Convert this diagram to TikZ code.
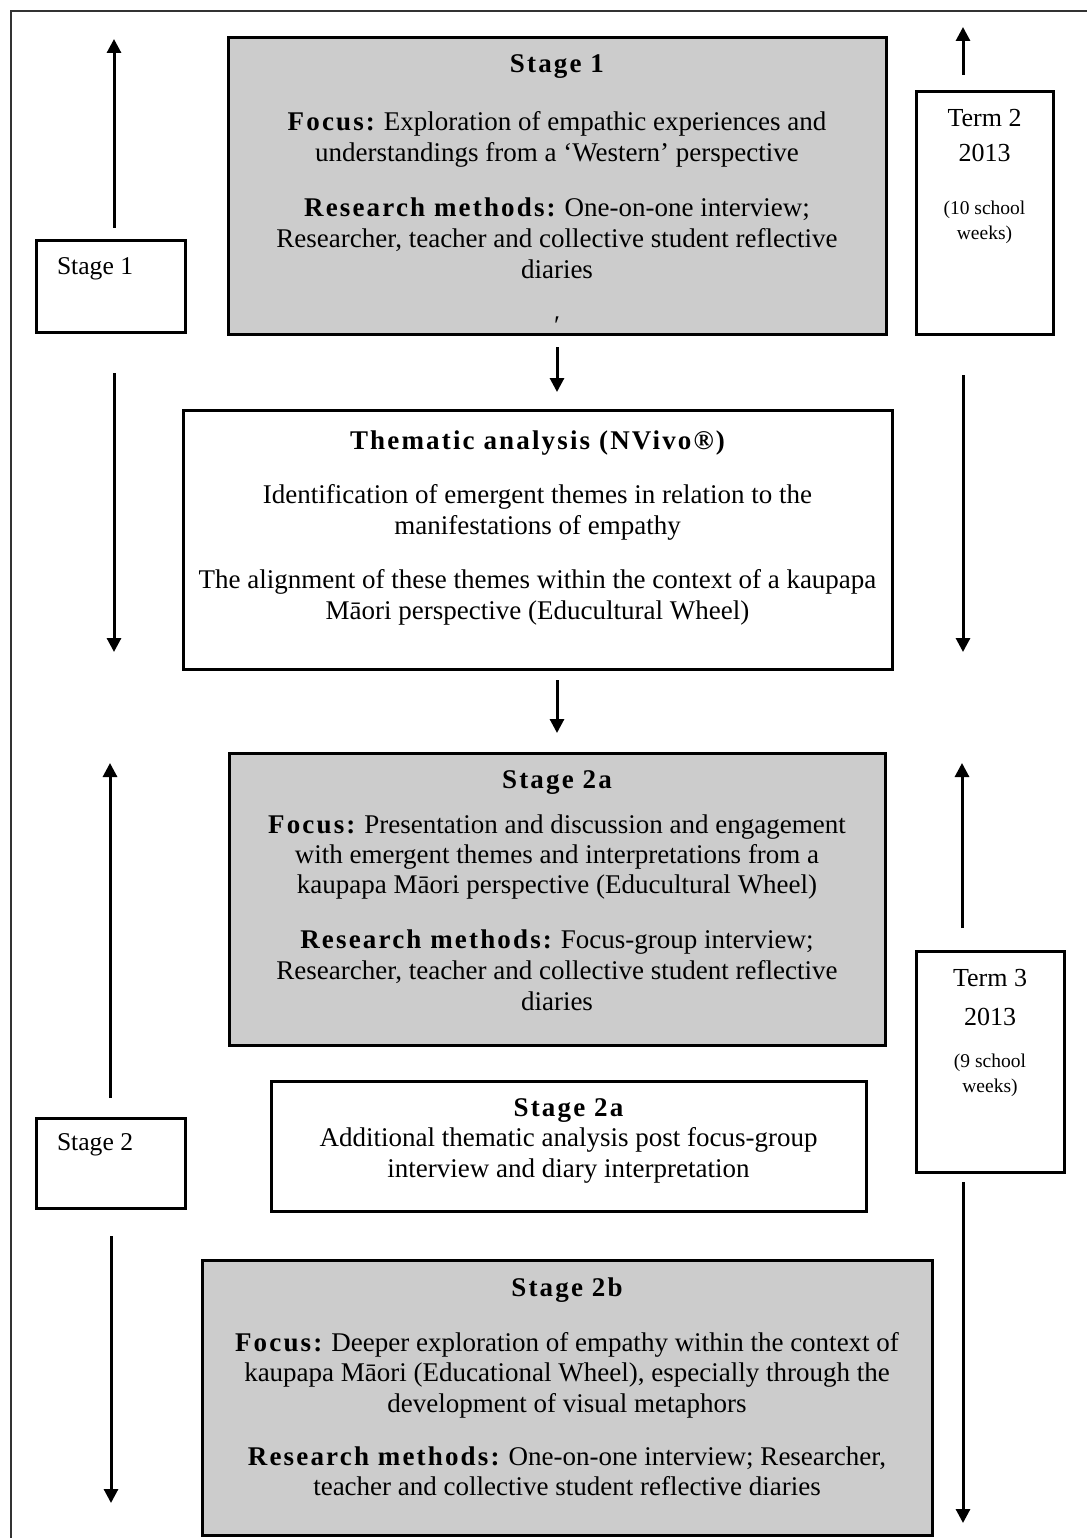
\documentclass[tikz,border=0pt]{standalone}
\usepackage{fontspec}
\setmainfont{Liberation Serif}
\usetikzlibrary{arrows.meta}
\definecolor{stagegrey}{HTML}{CCCCCC}
\definecolor{framegrey}{HTML}{333333}
\newcommand{\hd}[1]{{\bfseries\addfontfeature{LetterSpace=8}#1}}
\newcommand{\wksize}{\fontsize{19.5}{25}\selectfont}

\begin{document}
\begin{tikzpicture}[
  x=1pt,y=-1pt,
  box/.style={draw,line width=3pt,anchor=north,inner sep=0pt,outer sep=0pt,
    align=flush center,font=\fontsize{27}{31}\selectfont},
  stagebox/.style={box,fill=stagegrey},
  sidebox/.style={draw,line width=3pt,anchor=north west,inner xsep=21pt,inner ysep=0pt,
    outer sep=0pt,text width=107pt,align=flush left,font=\fontsize{25.6}{30}\selectfont,
    text height=33.5pt,text depth=57.5pt},
  termbox/.style={draw,line width=3pt,anchor=north west,inner sep=0pt,outer sep=0pt,
    align=flush center,font=\fontsize{26}{35}\selectfont},
  arrow/.style={-{Triangle[width=14pt,length=14pt]},line width=3pt}
]
\useasboundingbox (0,0) rectangle (1087,1538);
\draw[framegrey,line width=2pt] (11,1538) -- (11,11) -- (1087,11);

% middle column
\node[stagebox,text width=658pt,text height=35pt,text depth=261pt] (s1) at (557,38)
  {\hd{Stage 1}\\[27pt]
   \hd{Focus:} Exploration of empathic experiences and\\
   understandings from a ‘Western’ perspective\\[24pt]
   \hd{Research methods:} One-on-one interview;\\
   Researcher, teacher and collective student reflective\\
   diaries\\[25pt]
   ′};
\node[box,text width=709pt,text height=39.5pt,text depth=219.5pt] (thm) at (537.5,410)
  {\hd{Thematic analysis (NVivo®)}\\[23pt]
   Identification of emergent themes in relation to the\\
   manifestations of empathy\\[23pt]
   The alignment of these themes within the context of a kaupapa\\
   Māori perspective (Educultural Wheel)};
\node[stagebox,text width=656pt,text height=35pt,text depth=257pt] (s2a) at (557,753)
  {\hd{Stage 2a}\\[14pt]
   \hd{Focus:} Presentation and discussion and engagement\\[-1pt]
   with emergent themes and interpretations from a\\[-1pt]
   kaupapa Māori perspective (Educultural Wheel)\\[24pt]
   \hd{Research methods:} Focus-group interview;\\
   Researcher, teacher and collective student reflective\\
   diaries};
\node[box,text width=595pt,text height=35pt,text depth=95pt] (add) at (568.5,1081)
  {\hd{Stage 2a}\\[-1pt]
   Additional thematic analysis post focus-group\\
   interview and diary interpretation};
\node[stagebox,text width=730pt,text height=36pt,text depth=239pt] (s2b) at (567,1260)
  {\hd{Stage 2b}\\[24pt]
   \hd{Focus:} Deeper exploration of empathy within the context of\\[-1pt]
   kaupapa Māori (Educational Wheel), especially through the\\
   development of visual metaphors\\[22pt]
   \hd{Research methods:} One-on-one interview; Researcher,\\[-1pt]
   teacher and collective student reflective diaries};

% side labels
\node[sidebox] (lb1) at (36,241) {Stage 1};
\node[sidebox,text height=32.5pt] (lb2) at (36,1118) {Stage 2};
\node[termbox,text width=137pt,text height=34.5pt,text depth=207.5pt] (term2) at (916,92)
  {Term 2\\2013\\[18.5pt]{\wksize (10 school}\\[-10pt]{\wksize weeks)}};
\node[termbox,text width=148pt,text height=35.5pt,text depth=185.5pt] (term3) at (916,951)
  {Term 3\\[3.5pt]2013\\[7pt]{\wksize (9 school}\\[-10pt]{\wksize weeks)}};

% free ends of the side arrows
\coordinate (lu1) at (114,39);
\coordinate (ld1) at (114,652);
\coordinate (ru1) at (963,27);
\coordinate (rd1) at (963,652);
\coordinate (lu2) at (110,763);
\coordinate (ld2) at (111,1503);
\coordinate (ru2) at (962,763);
\coordinate (rd2) at (963,1523);

\draw[arrow,shorten <=13pt] (lb1.north -| lu1) -- (lu1);
\draw[arrow,shorten <=41pt] (lb1.south -| ld1) -- (ld1);
\draw[arrow,shorten <=17pt] (term2.north -| ru1) -- (ru1);
\draw[arrow,shorten <=41pt] (term2.south -| rd1) -- (rd1);
\draw[arrow,shorten <=13pt,shorten >=18pt] (s1.south) -- (s1.south |- thm.north);
\draw[arrow,shorten <=11pt,shorten >=20pt] (s2a.north |- thm.south) -- (s2a.north);
\draw[arrow,shorten <=20pt] (lb2.north -| lu2) -- (lu2);
\draw[arrow,shorten <=28pt] (lb2.south -| ld2) -- (ld2);
\draw[arrow,shorten <=23pt] (term3.north -| ru2) -- (ru2);
\draw[arrow,shorten <=10pt] (term3.south -| rd2) -- (rd2);
\end{tikzpicture}
\end{document}
